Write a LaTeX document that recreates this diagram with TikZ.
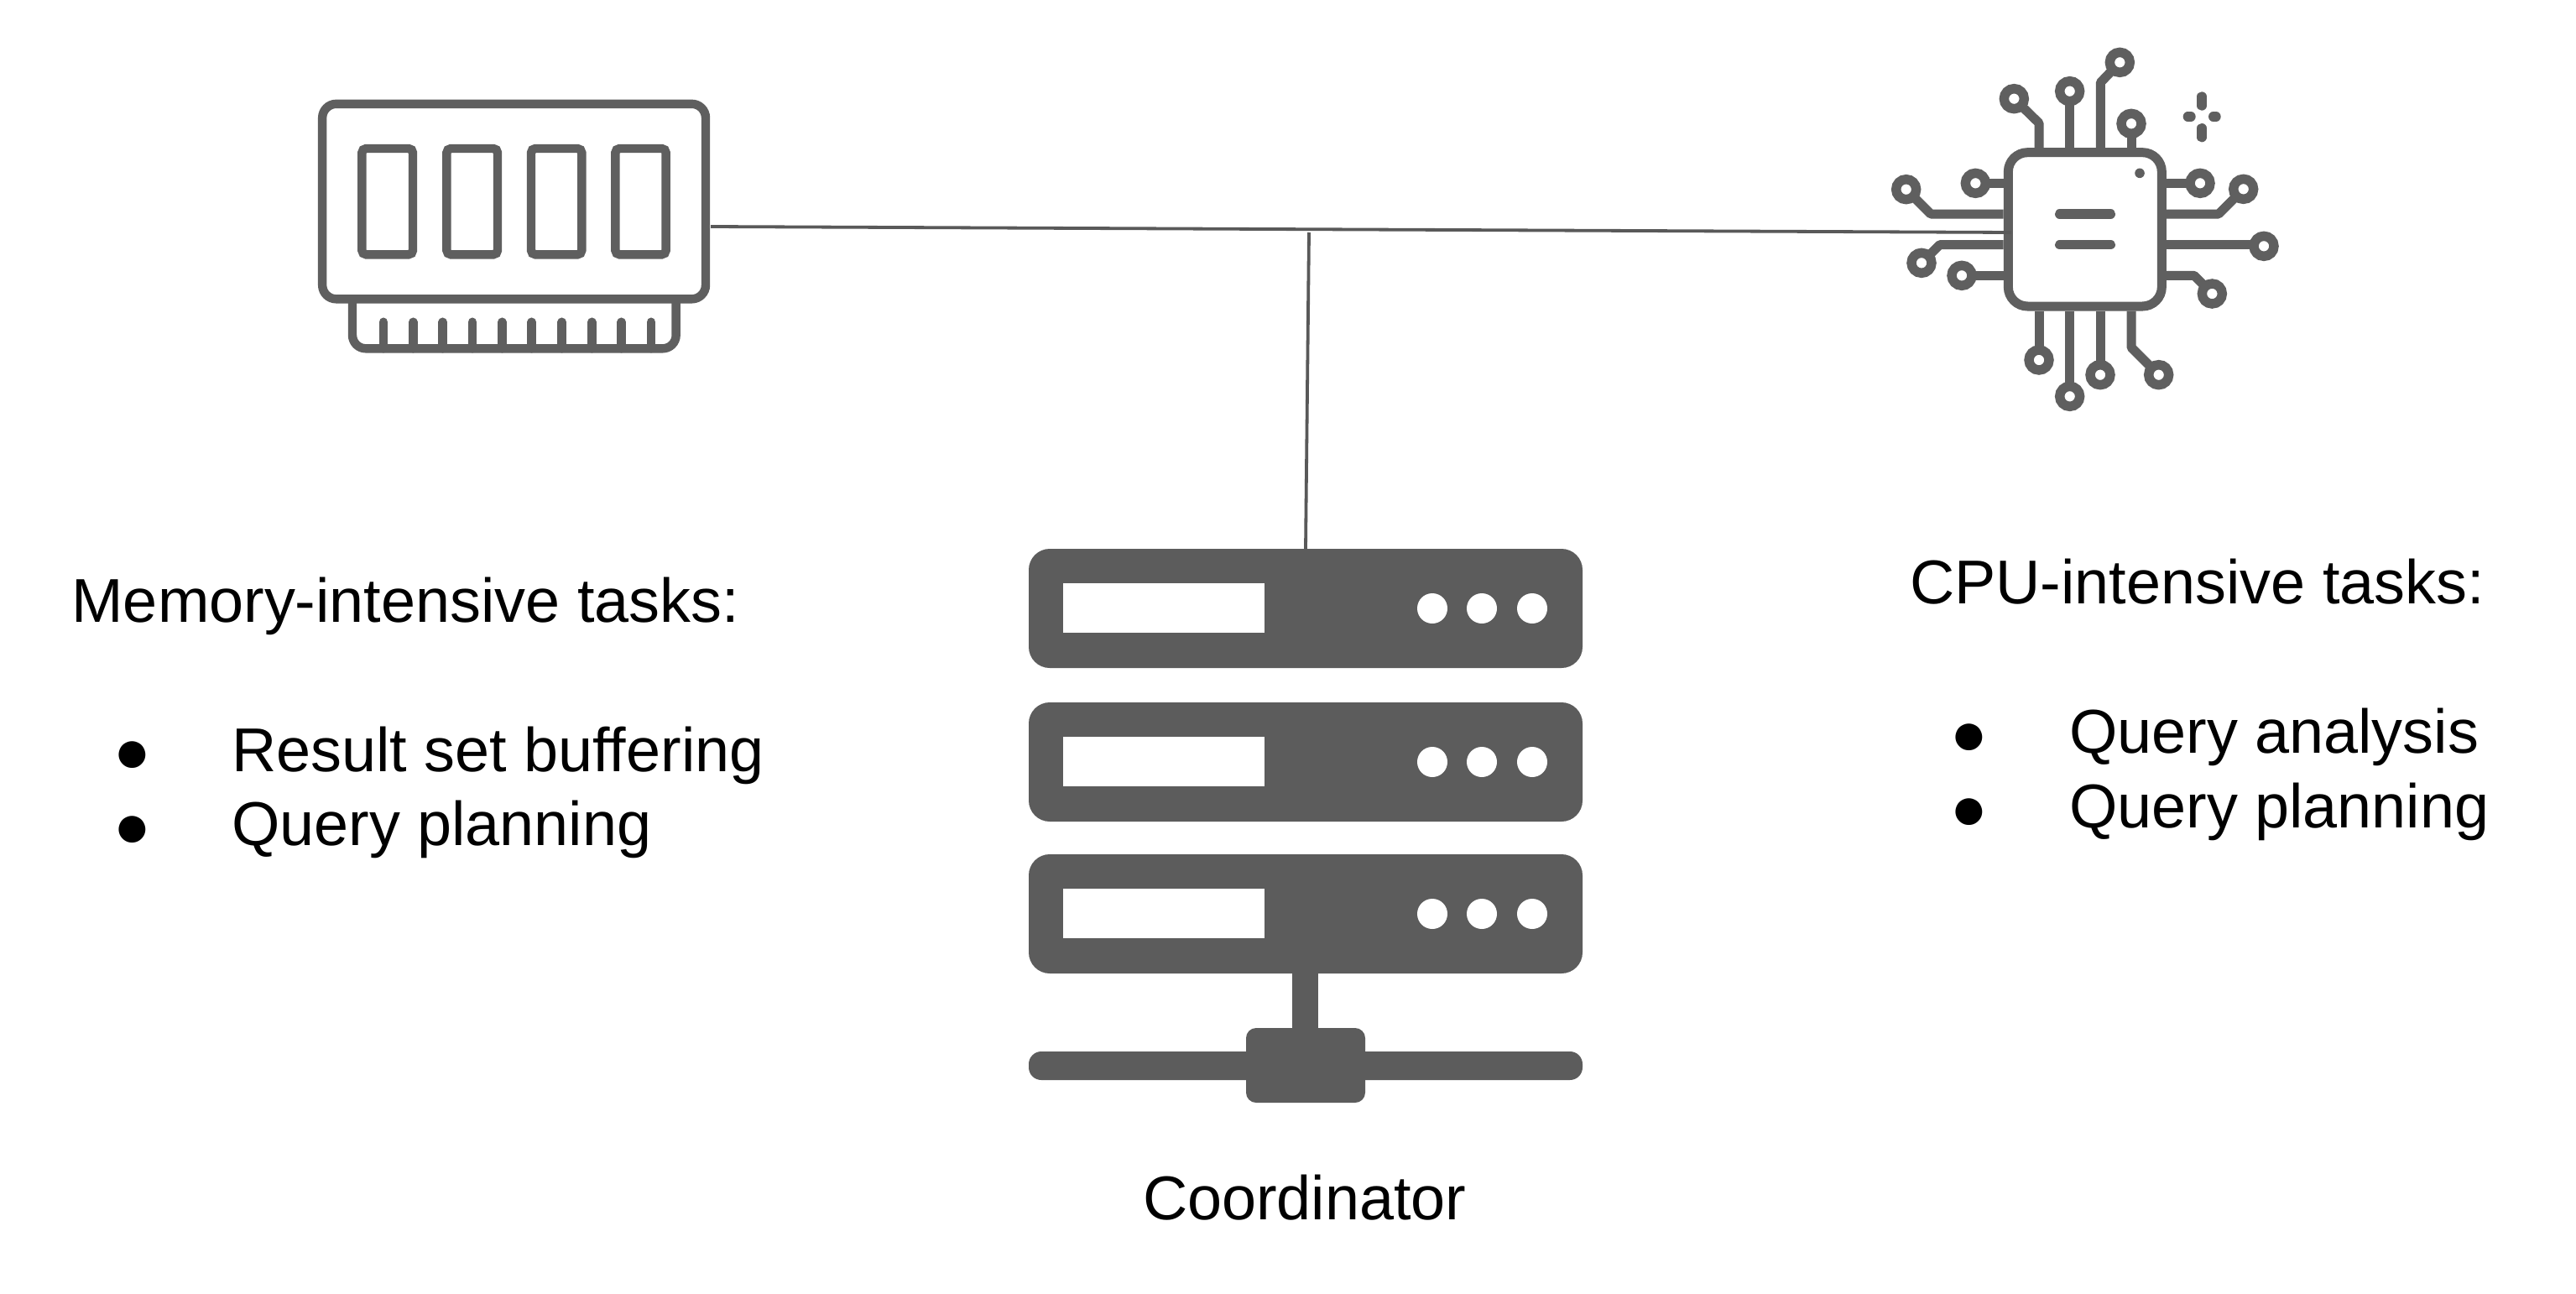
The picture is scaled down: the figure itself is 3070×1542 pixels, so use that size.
\documentclass[tikz,border=0pt]{standalone}
\usepackage{fontspec}
\setmainfont{Liberation Sans}
\definecolor{icon}{HTML}{5F5F5F}
\definecolor{rackgrey}{HTML}{5C5C5C}
\definecolor{wire}{HTML}{595959}
\tikzset{
  label text/.style={anchor=base west,inner sep=0pt,outer sep=0pt,text=black,font=\fontsize{36.9pt}{37pt}\selectfont},
  bullet mark/.style={anchor=center,inner sep=0pt,outer sep=0pt,text=black,font=\fontsize{37pt}{37pt}\selectfont},
  wire line/.style={draw=wire,line width=1.9pt},
  ram stroke/.style={draw=icon,line width=5.2pt},
  pin/.style={draw=icon,line width=5.5pt,line join=round},
  pad/.style={draw=icon,fill=white,line width=5.7pt},
  chip bar/.style={draw=icon,line width=5.7pt,line cap=round},
  rack/.style={fill=rackgrey,rounded corners=12.5pt},
  zoomed/.style={x=.166667pt,y=-.166667pt}
}
\begin{document}
\begin{tikzpicture}[x=.5pt,y=-.5pt]
\useasboundingbox (0,0) rectangle (3070,1542);
\fill[white] (0,0) rectangle (3070,1542);

% RAM module
\begin{scope}[shift={(360,100)},zoomed]
  \draw[ram stroke,rounded corners=8pt] (180,769) -- (180,946) -- (1337,946) -- (1337,769);
  \foreach \tx in {291,397,503,609,715,821,929,1036,1142,1248}
    \draw[ram stroke,line cap=round] (\tx,851) -- (\tx,946);
  \draw[ram stroke,fill=white,rounded corners=8.3pt] (72.5,71.5) rectangle (1443,769);
  \foreach \sa/\sb in {214/396,517/699,819/1000,1120/1301}
    \draw[ram stroke,rounded corners=2.5pt] (\sa,231) rectangle (\sb,610);
\end{scope}

% CPU chip
\begin{scope}[shift={(2270,30)},zoomed]
  \draw[pin] (480,438) -- (480,350) -- (391,263);
  \draw[pin] (590,438) -- (590,236);
  \draw[pin] (700,438) -- (700,205) -- (769,133);
  \draw[pin] (810,438) -- (810,352);
  \draw[pin] (353,565) -- (253,565);
  \draw[pin] (353,675) -- (93,675) -- (5,587);
  \draw[pin] (353,785) -- (125,785) -- (60,850);
  \draw[pin] (353,895) -- (204,895);
  \draw[pin] (936,565) -- (1056,565);
  \draw[pin] (936,675) -- (1122,675) -- (1211,586);
  \draw[pin] (936,785) -- (1250,785);
  \draw[pin] (936,895) -- (1035,895) -- (1099,960);
  \draw[pin] (480,1022) -- (480,1197);
  \draw[pin] (590,1022) -- (590,1327);
  \draw[pin] (699,1022) -- (699,1250);
  \draw[pin] (810,1022) -- (810,1152) -- (908,1250);
  \foreach \px/\py in {391/263,590/236,769/133,810/352,253/565,5/587,60/850,204/895,1056/565,1211/586,1284/790,1099/960,480/1197,590/1327,699/1250,908/1250}
    \draw[pad] (\px,\py) circle [radius=6pt];
  \draw[draw=icon,fill=white,line width=5.5pt,rounded corners=11.5pt] (370,455) rectangle (919,1005);
  \fill[icon] (840,529) circle [radius=2.9pt];
  \draw[chip bar] (554,675) -- (736,675);
  \draw[chip bar] (554,785) -- (736,785);
  \draw[chip bar] (1062,255) -- (1062,288);
  \draw[chip bar] (1062,368) -- (1062,401);
  \draw[chip bar] (1012,327) -- (1023,327);
  \draw[chip bar] (1103,327) -- (1113,327);
\end{scope}

% Coordinator server rack
\foreach \ry in {654,837,1018} {
  \fill[rack] (1226,\ry) rectangle (1886,\ry+142);
  \fill[white] (1267,\ry+41) rectangle (1507,\ry+100);
  \foreach \dx in {1707,1766,1826}
    \fill[white] (\dx,\ry+71) circle [radius=9pt];
}
\fill[rackgrey] (1540,1150) rectangle (1571,1235);
\fill[rackgrey,rounded corners=7.5pt] (1226,1253) rectangle (1886,1287);
\fill[rackgrey,rounded corners=6pt] (1485,1225) rectangle (1627,1314);

% Connectors
\coordinate (ramport) at (847,270);
\coordinate (cpuport) at (2397,277);
\coordinate (junction) at (1560,277);
\coordinate (rackport) at (1556,654);
\draw[wire line] (ramport) -- (cpuport);
\draw[wire line] (junction) -- (rackport);

% Labels
\node[label text] (memtitle) at (85.5,741) {Memory-intensive tasks:};
\node[bullet mark] (membulla) at (158,902) {●};
\node[label text] (memitema) at (276,919) {Result set buffering};
\node[bullet mark] (membullb) at (158,991) {●};
\node[label text] (memitemb) at (276,1007) {Query planning};
\node[label text] (cputitle) at (2276,719) {CPU-intensive tasks:};
\node[bullet mark] (cpubulla) at (2347,881) {●};
\node[label text] (cpuitema) at (2466,897) {Query analysis};
\node[bullet mark] (cpubullb) at (2347,970) {●};
\node[label text] (cpuitemb) at (2466,986) {Query planning};
\node[label text] (coordlabel) at (1362,1453) {Coordinator};
\end{tikzpicture}
\end{document}
